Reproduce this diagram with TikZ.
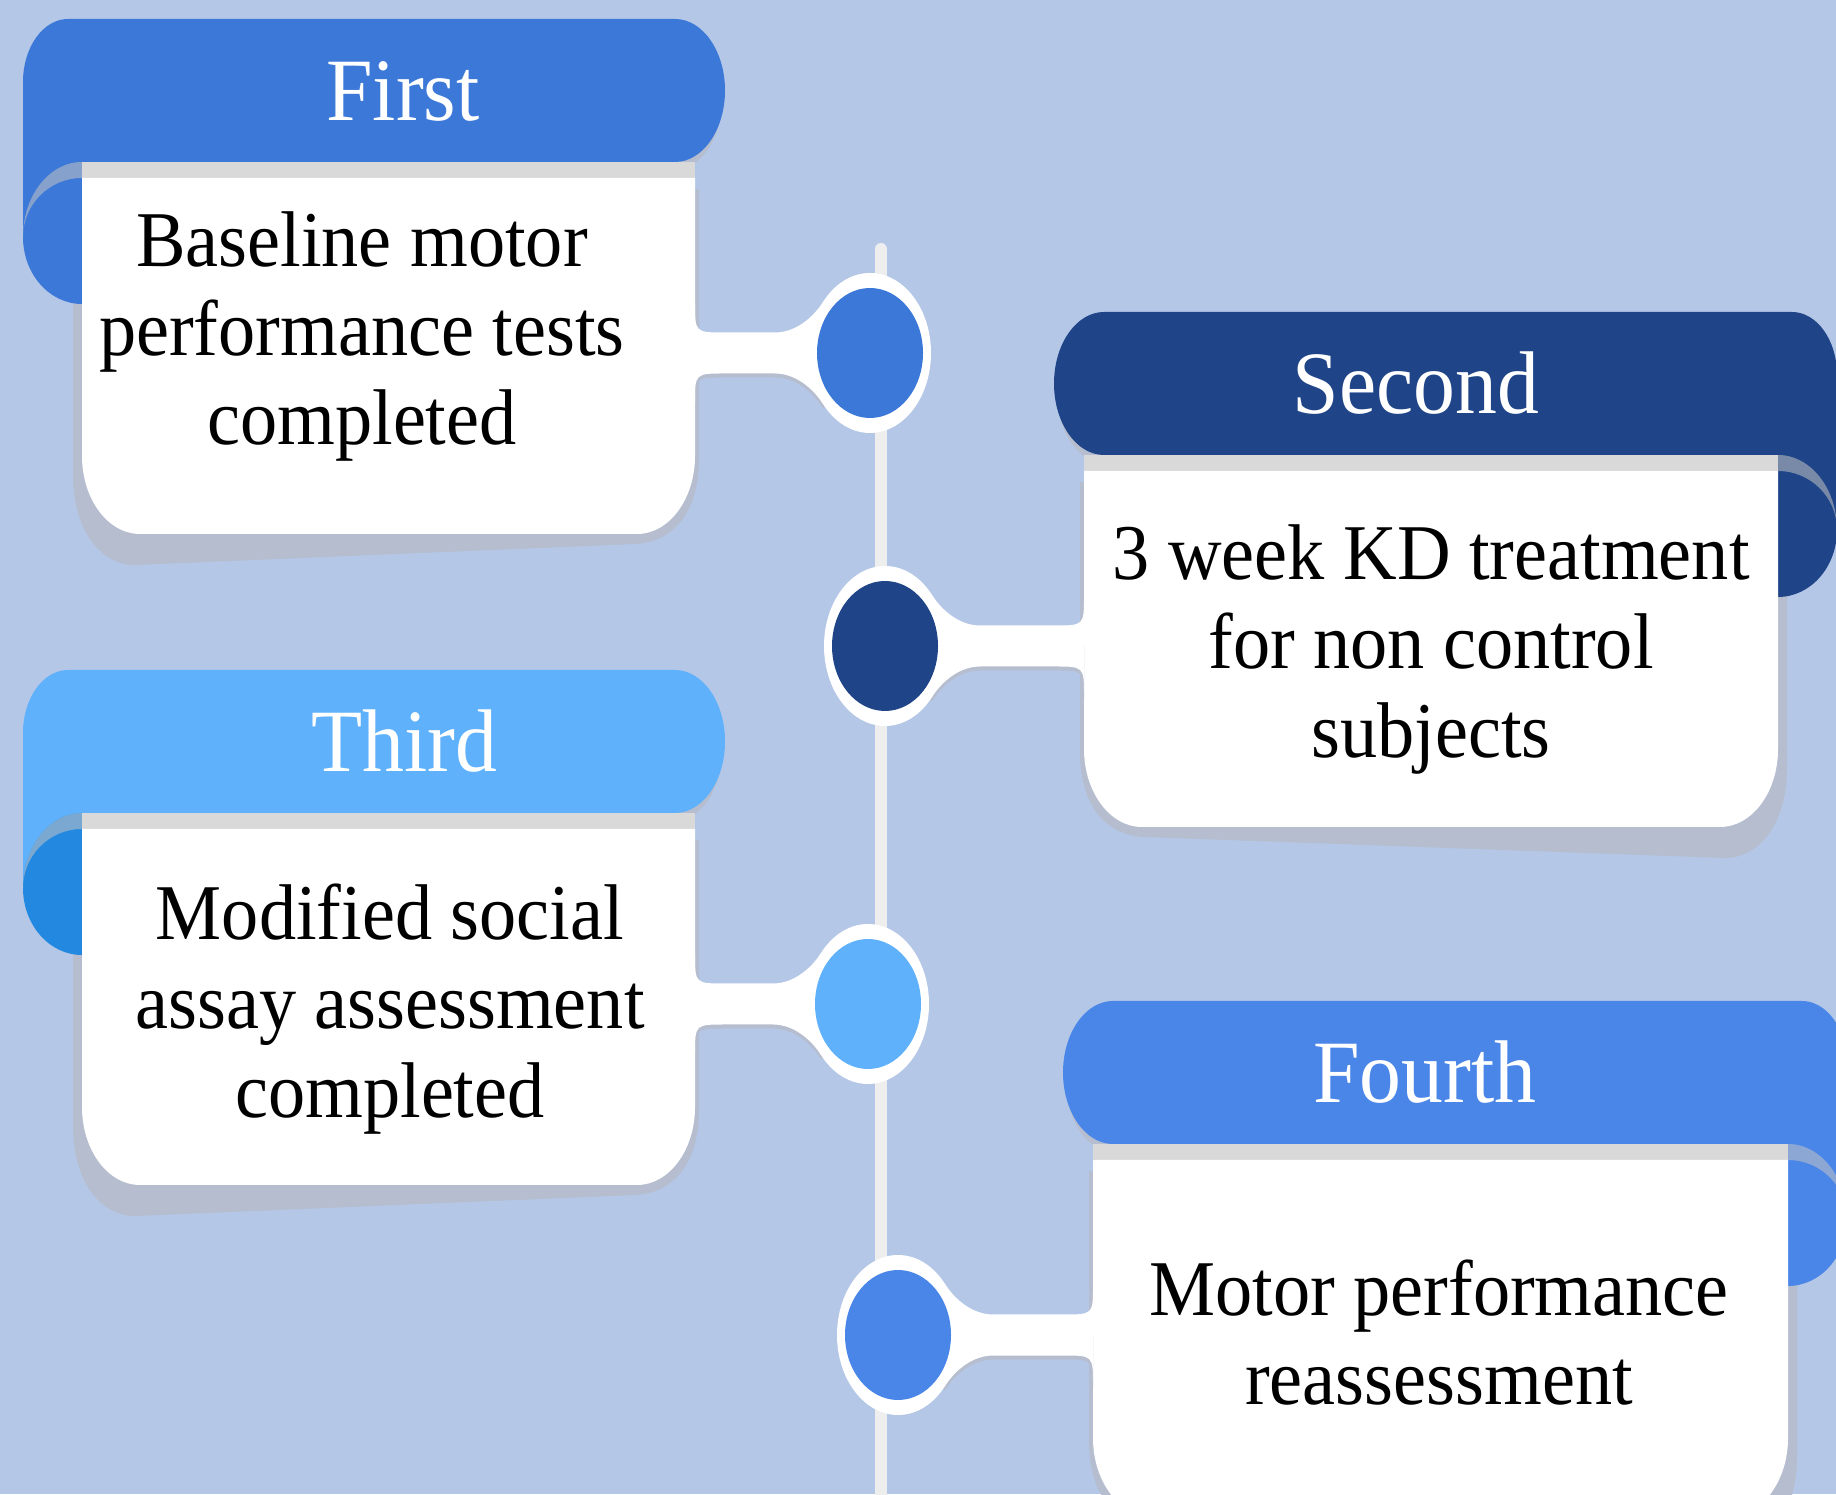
\documentclass[tikz,border=0pt]{standalone}
\usepackage{fontspec}
\setmainfont{Liberation Serif}
\usetikzlibrary{shapes.geometric}
\definecolor{backg}{HTML}{B4C7E7}
\definecolor{firstc}{HTML}{3C78D8}
\definecolor{secondc}{HTML}{1F4588}
\definecolor{thirdc}{HTML}{5EB1FA}
\definecolor{thirdcurl}{HTML}{2389E0}
\definecolor{fourthc}{HTML}{4A86E8}
\definecolor{stripc}{HTML}{D9D9D9}
\definecolor{shadowc}{HTML}{B5BDCE}
\definecolor{foldc}{HTML}{C3C3C3}
\definecolor{linec}{HTML}{EEEEEE}

\begin{document}
\begin{tikzpicture}[x=1pt,y=1pt,
    head/.style={anchor=base,text=white,xscale=.94,font=\fontsize{89}{100}\selectfont},
    body/.style={anchor=base,align=center,xscale=.94,font=\fontsize{79}{89}\selectfont}]
    \useasboundingbox (0,0) rectangle (1836,1494);
    \clip (0,0) rectangle (1836,1494);
    \fill[backg] (0,0) rectangle (1836,1494);
    \draw[linec,line width=12,line cap=round] (881,1245) -- (881,-20);
    % header with curl, strip and card
    \foreach \ox/\oy/\s/\w/\hc/\cc in {23/1475/1/613/firstc/firstc, 1837/1182/-1/694/secondc/secondc, 23/824/1/613/thirdc/thirdcurl, 1847/493/-1/695/fourthc/fourthc}{
        \begin{scope}[shift={(\ox,\oy)},xscale=\s]
            \fill[shadowc] (50,-280) -- (50,-455) .. controls (50,-515) and (80,-546) .. (112,-546) -- ({\w-1},-525) .. controls ({\w+40},-523) and ({\w+63},-490) .. ({\w+63},-440) -- ({\w+63},-170) -- cycle;
            \fill[shadowc] ({\w-23},-9) -- ({\w+36},-9) arc[start angle=90,end angle=-90,x radius=50,y radius=71.5] -- ({\w-23},-152) -- cycle;
            \fill[fill=\hc] (0,-218) -- (0,-63) arc[start angle=180,end angle=90,x radius=45,y radius=63] -- ({\w+39},0) arc[start angle=90,end angle=-90,x radius=50,y radius=71.5] -- (59,-143) -- (59,-218) -- cycle;
            \fill[fill=\cc] (59,-143) arc[start angle=90,end angle=180,x radius=59,y radius=75] arc[start angle=180,end angle=270,x radius=59,y radius=67] -- cycle;
            \fill[foldc,opacity=.55] (59,-143) arc[start angle=90,end angle=180,x radius=59,y radius=75] arc[start angle=180,end angle=90,x radius=59,y radius=59] -- cycle;
            \fill[stripc] (59,-143) rectangle ({\w+59},-159);
            \fill[white] (59,-159) -- (59,-437) arc[start angle=180,end angle=270,x radius=58,y radius=78] -- ({\w+1},-515) arc[start angle=270,end angle=360,x radius=58,y radius=78] -- ({\w+59},-159) -- cycle;
        \end{scope}
    }
    % stems and dots on the time line
    \foreach \cx/\cy/\d/\s/\hc/\n in {870/1141/175/1/firstc/1, 885/848/199/-1/secondc/2, 868/490/173/1/thirdc/3, 898/159/195/-1/fourthc/4}{
        \begin{scope}[shift={(\cx,\cy)},xscale=\s]
            \fill[shadowc] (-\d,-54) .. controls (-\d,-24.5) .. ({-\d+30},-24.5) -- (-95,-24.5) .. controls (-75,-24.5) and (-57.5,-38.6) .. (-46.7,-55.4) -- (0,0) -- (-\d,0) -- cycle;
            \fill[white] (-\d,50) .. controls (-\d,20.5) .. ({-\d+30},20.5) -- (-95,20.5) .. controls (-75,20.5) and (-57.5,34.6) .. (-46.7,51.4) -- (0,0) -- (-46.7,-51.4) .. controls (-57.5,-34.6) and (-75,-20.5) .. (-95,-20.5) -- ({-\d+30},-20.5) .. controls (-\d,-20.5) .. (-\d,-50) -- cycle;
        \end{scope}
        \node[ellipse,fill=white,minimum width=122,minimum height=160] (ring\n) at (\cx,\cy) {};
        \node[ellipse,fill=\hc,minimum width=106,minimum height=130] (dot\n) at (\cx,\cy) {};
    }
    \node[head] (h1) at (403,1373) {First};
    \node[head] (h2) at (1416,1080) {Second};
    \node[head] (h3) at (404,722) {Third};
    \node[head] (h4) at (1425,391) {Fourth};
    \node[body] (t1) at (362,1049) {Baseline motor\\performance tests\\completed};
    \node[body] (t2) at (1431,736) {3 week KD treatment\\for non control\\subjects};
    \node[body] (t3) at (390,376) {Modified social\\assay assessment\\completed};
    \node[body] (t4) at (1439,90) {Motor performance\\reassessment};
\end{tikzpicture}
\end{document}
